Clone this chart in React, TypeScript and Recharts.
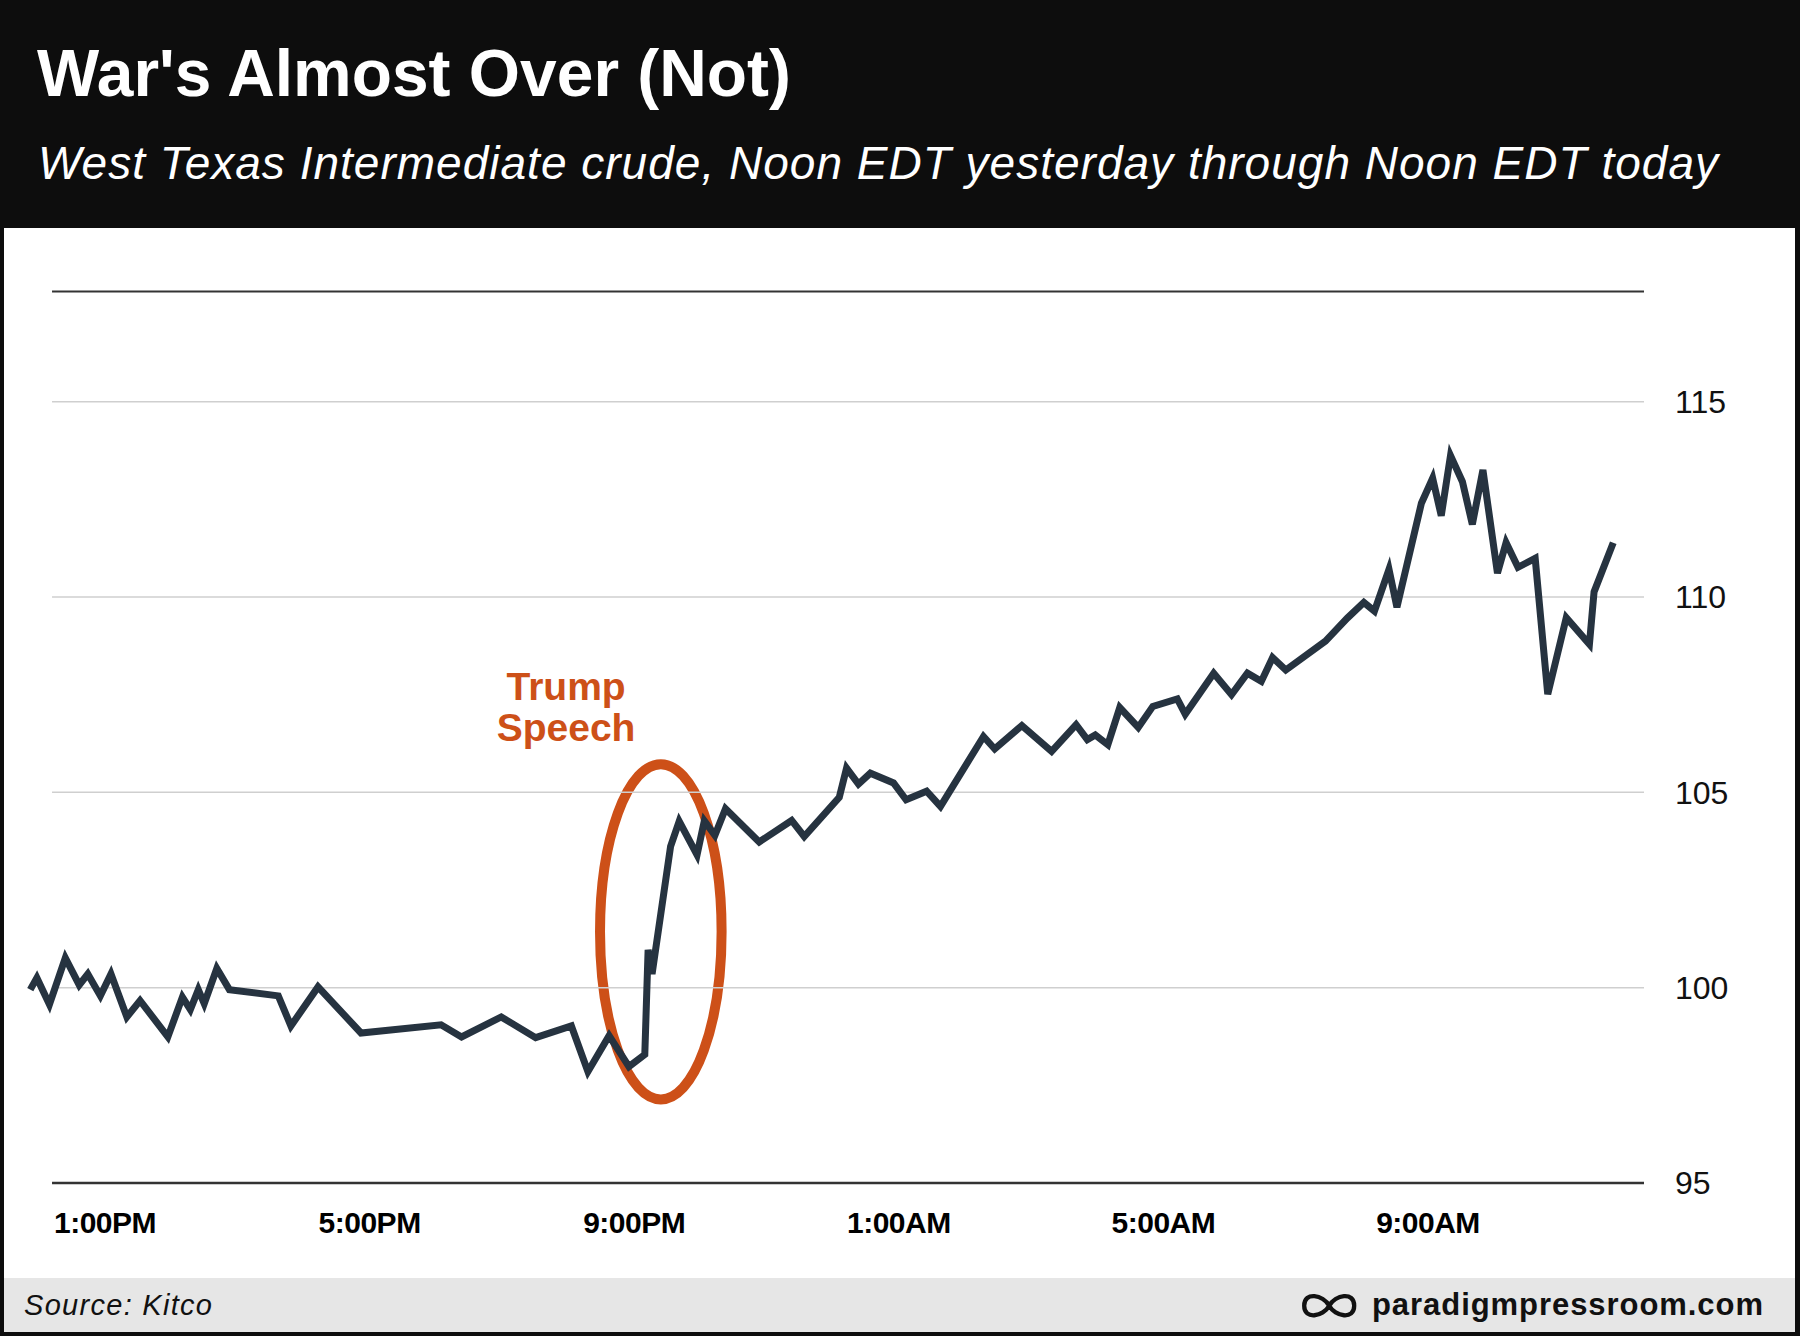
import React from "react";
import { LineChart, Line, XAxis, YAxis, ReferenceLine, ReferenceArea, ReferenceDot } from "recharts";

// hours after noon EDT yesterday
const hours = [
  -0.13, -0.03, 0.16, 0.4, 0.61, 0.74, 0.93, 1.09, 1.33, 1.53, 1.95, 2.17, 2.29, 2.41, 2.5, 2.69, 2.88,
  3.62, 3.81, 4.22, 4.87, 6.08, 6.39, 6.99, 7.51, 8.05, 8.3, 8.62, 8.92, 9.16, 9.21, 9.27, 9.55, 9.68,
  9.95, 10.06, 10.22, 10.38, 10.89, 11.38, 11.57, 12.1, 12.21, 12.39, 12.57, 12.92, 13.11, 13.42, 13.63,
  14.28, 14.45, 14.86, 15.31, 15.68, 15.85, 15.97, 16.16, 16.34, 16.62, 16.84, 17.21, 17.33, 17.76,
  18.03, 18.27, 18.48, 18.65, 18.85, 19.45, 19.78, 20.03, 20.19, 20.41, 20.53, 20.9, 21.07, 21.2, 21.34,
  21.52, 21.67, 21.83, 22.05, 22.18, 22.36, 22.62, 22.81, 23.09, 23.44, 23.51, 23.8,
];

// WTI, $/bbl
const prices = [
  99.95, 100.25, 99.57, 100.76, 100.07, 100.35, 99.79, 100.35, 99.25, 99.67, 98.74, 99.76, 99.44, 99.95,
  99.59, 100.49, 99.95, 99.79, 99.02, 100.02, 98.84, 99.05, 98.74, 99.25, 98.72, 99.02, 97.85, 98.77,
  97.98, 98.29, 100.97, 100.35, 103.62, 104.26, 103.4, 104.27, 103.9, 104.58, 103.73, 104.28, 103.87,
  104.87, 105.62, 105.21, 105.49, 105.24, 104.81, 105.03, 104.64, 106.43, 106.11, 106.71, 106.05, 106.73,
  106.35, 106.47, 106.22, 107.17, 106.66, 107.2, 107.39, 107.0, 108.05, 107.5, 108.05, 107.84, 108.45,
  108.13, 108.87, 109.46, 109.86, 109.64, 110.71, 109.74, 112.4, 113.04, 112.08, 113.62, 112.95, 111.86,
  113.25, 110.61, 111.39, 110.76, 110.99, 107.51, 109.47, 108.79, 110.13, 111.39,
];

const tickHours = [1, 5, 9, 13, 17, 21];
const tickLabels = ["1:00PM", "5:00PM", "9:00PM", "1:00AM", "5:00AM", "9:00AM"];
const priceTicks = [95, 100, 105, 110, 115];
const gridPrices = [100, 105, 110, 115];

const data = hours.map((h, i) => ({ h, price: prices[i] }));

const FONT = '"Liberation Sans", Arial, Helvetica, sans-serif';
const ORANGE = "#cd5018";
const LINE = "#263340";

const X_DOMAIN: [number, number] = [-0.134, 24.265];
const Y_DOMAIN: [number, number] = [95, 117.82];
const GRID_FROM = 0.199;
const GRID_TO = 24.265;

const Ellipse = (props: any) => {
  const { x, y, width, height } = props;
  return (
    <ellipse
      cx={x + width / 2}
      cy={y + height / 2}
      rx={width / 2}
      ry={height / 2}
      fill="none"
      stroke={ORANGE}
      strokeWidth={10}
    />
  );
};

const SpeechLabel = (props: any) => {
  const { cx, cy } = props;
  return (
    <text x={cx} y={cy} textAnchor="middle" fill={ORANGE} fontFamily={FONT} fontWeight="bold" fontSize={39}>
      <tspan x={cx}>Trump</tspan>
      <tspan x={cx} dy={41}>Speech</tspan>
    </text>
  );
};

function Frame() {
  return (
    <svg width={1800} height={1336} style={{ position: "absolute", left: 0, top: 0 }}>
      <rect x={0} y={0} width={1800} height={1336} fill="#0d0d0d" />
      <rect x={4} y={228} width={1791} height={1050} fill="#ffffff" />
      <rect x={4} y={1278} width={1791} height={54} fill="#e6e6e6" />
      <text x={37} y={96} fill="#fff" fontFamily={FONT} fontWeight="bold" fontSize={66} textLength={754} lengthAdjust="spacingAndGlyphs">
        War's Almost Over (Not)
      </text>
      <text x={38} y={179} fill="#fff" fontFamily={FONT} fontStyle="italic" fontSize={46} textLength={1680} lengthAdjust="spacing">
        West Texas Intermediate crude, Noon EDT yesterday through Noon EDT today
      </text>
      <text x={24} y={1315} fill="#111" fontFamily={FONT} fontStyle="italic" fontSize={29} textLength={188} lengthAdjust="spacing">
        Source: Kitco
      </text>
      <path
        transform="translate(1329.2 1305.7)"
        d="M0,0 C6,-11 25,-14.5 25,0 C25,14.5 6,11 0,0 C-6,-11 -25,-14.5 -25,0 C-25,14.5 -6,11 0,0 Z"
        fill="none"
        stroke="#111"
        strokeWidth={4.3}
      />
      <text x={1372} y={1315} fill="#111" fontFamily={FONT} fontWeight="bold" fontSize={31} textLength={391} lengthAdjust="spacing">
        paradigmpressroom.com
      </text>
    </svg>
  );
}

export default function App() {
  return (
    <div style={{ position: "absolute", left: 0, top: 0, width: 1800, height: 1336, fontFamily: FONT }}>
      <Frame />
      <div style={{ position: "absolute", left: 0, top: 0 }}>
        <LineChart width={1800} height={1336} data={data} margin={{ top: 291.5, right: 56, bottom: 93, left: 30 }}>
          <XAxis
            dataKey="h"
            type="number"
            domain={X_DOMAIN}
            ticks={tickHours}
            tickFormatter={(v: number) => tickLabels[tickHours.indexOf(v)] ?? ""}
            axisLine={false}
            tickLine={false}
            tickSize={0}
            tickMargin={29}
            height={60}
            tick={{ fill: "#000", fontSize: 30, fontWeight: "bold", fontFamily: FONT, letterSpacing: -0.5 }}
          />
          <YAxis
            orientation="right"
            type="number"
            domain={Y_DOMAIN}
            ticks={priceTicks}
            axisLine={false}
            tickLine={false}
            tickSize={0}
            tickMargin={31}
            width={100}
            tick={{ fill: "#111", fontSize: 32, fontFamily: FONT, textAnchor: "start" }}
          />
          {gridPrices.map((p) => (
            <ReferenceLine
              key={p}
              segment={[{ x: GRID_FROM, y: p }, { x: GRID_TO, y: p }]}
              stroke="#cfcfcf"
              strokeWidth={1.5}
              ifOverflow="visible"
            />
          ))}
          <ReferenceLine
            segment={[{ x: GRID_FROM, y: Y_DOMAIN[1] }, { x: GRID_TO, y: Y_DOMAIN[1] }]}
            stroke="#333"
            strokeWidth={2}
            ifOverflow="visible"
          />
          <ReferenceLine
            segment={[{ x: GRID_FROM, y: 95 }, { x: GRID_TO, y: 95 }]}
            stroke="#333"
            strokeWidth={2.5}
            ifOverflow="visible"
          />
          <Line
            type="linear"
            dataKey="price"
            stroke={LINE}
            strokeWidth={7}
            dot={false}
            activeDot={false}
            isAnimationActive={false}
          />
          <ReferenceArea
            x1={8.483}
            x2={10.321}
            y1={97.14}
            y2={105.72}
            shape={<Ellipse />}
            ifOverflow="visible"
          />
          <ReferenceDot x={7.97} y={107.37} r={0} shape={<SpeechLabel />} ifOverflow="visible" />
        </LineChart>
      </div>
    </div>
  );
}
